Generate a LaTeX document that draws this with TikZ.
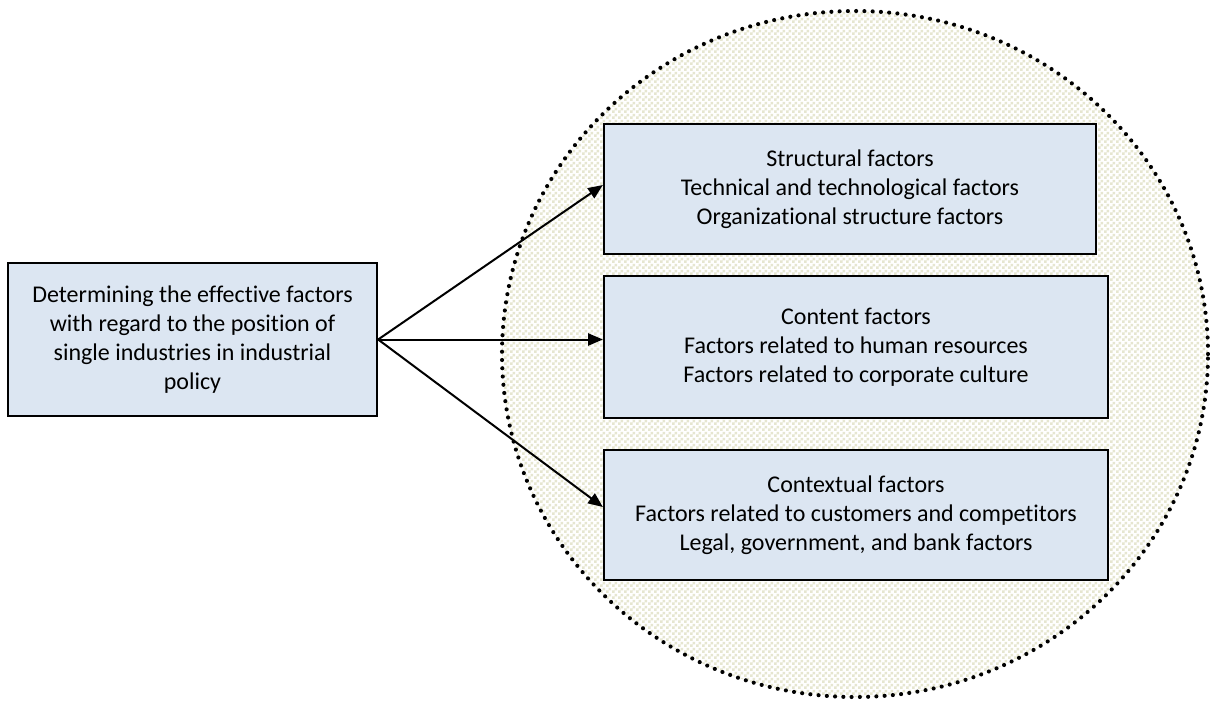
\documentclass[tikz,border=0pt]{standalone}
\usepackage{fontspec}
\setmainfont{Carlito}[Ligatures=NoCommon]
\usepackage{tikz}
\usetikzlibrary{positioning}
\usetikzlibrary{arrows,arrows.meta}
\usetikzlibrary{patterns}
\usetikzlibrary{calc}

\definecolor{boxblue}{RGB}{220,230,242}
\definecolor{checkbeige}{RGB}{230,230,208}

\pgfdeclarepatternformonly{smallchecker}{\pgfqpoint{0pt}{0pt}}{\pgfqpoint{4.5pt}{4.5pt}}{\pgfqpoint{4.5pt}{4.5pt}}{%
    \pgfpathrectangle{\pgfqpoint{0pt}{0pt}}{\pgfqpoint{2.25pt}{2.25pt}}%
    \pgfpathrectangle{\pgfqpoint{2.25pt}{2.25pt}}{\pgfqpoint{2.25pt}{2.25pt}}%
    \pgfusepath{fill}}

\tikzset{
    factorbox/.style={draw=black, line width=1.7pt, fill=boxblue, align=center,
        inner sep=0pt, font=\fontsize{18}{21.75}\selectfont},
}

\begin{document}
\begin{tikzpicture}[x=0.75pt, y=-0.75pt, >={Triangle[length=11pt,width=9pt]}]

    \useasboundingbox (0,0) rectangle (1210,700);

    % Kreis
    \fill[white] (855,354) ellipse [x radius=264.75pt, y radius=257.25pt];
    \fill[pattern=smallchecker, pattern color=checkbeige] (855,354) ellipse [x radius=264.75pt, y radius=257.25pt];
    \draw[line width=3.1pt, line cap=round, dash pattern=on 0pt off 6.2pt] (855,354) ellipse [x radius=264.75pt, y radius=257.25pt];

    % Boxen
    \node[factorbox, minimum width=276.75pt, minimum height=114.75pt] (source) at (192.5,339.5)
        {Determining the effective factors\\ with regard to the position of\\ single industries in industrial\\ policy};
    \node[factorbox, minimum width=369pt, minimum height=97.5pt] (structural) at (850,189)
        {Structural factors\\ Technical and technological factors\\ Organizational structure factors};
    \node[factorbox, minimum width=378pt, minimum height=106.5pt] (content) at (856,347)
        {Content factors\\ Factors related to human resources\\ Factors related to corporate culture};
    \node[factorbox, minimum width=378pt, minimum height=97.5pt] (contextual) at (856,515)
        {Contextual factors\\ Factors related to customers and competitors\\ Legal, government, and bank factors};

    % Pfeile
    \draw[->, line width=1.5pt] (source.east) -- ([yshift=3pt]structural.west);
    \draw[->, line width=1.5pt] (source.east) -- (source.east -| content.west);
    \draw[->, line width=1.5pt] (source.east) -- ([yshift=6pt]contextual.west);
\end{tikzpicture}
\end{document}
